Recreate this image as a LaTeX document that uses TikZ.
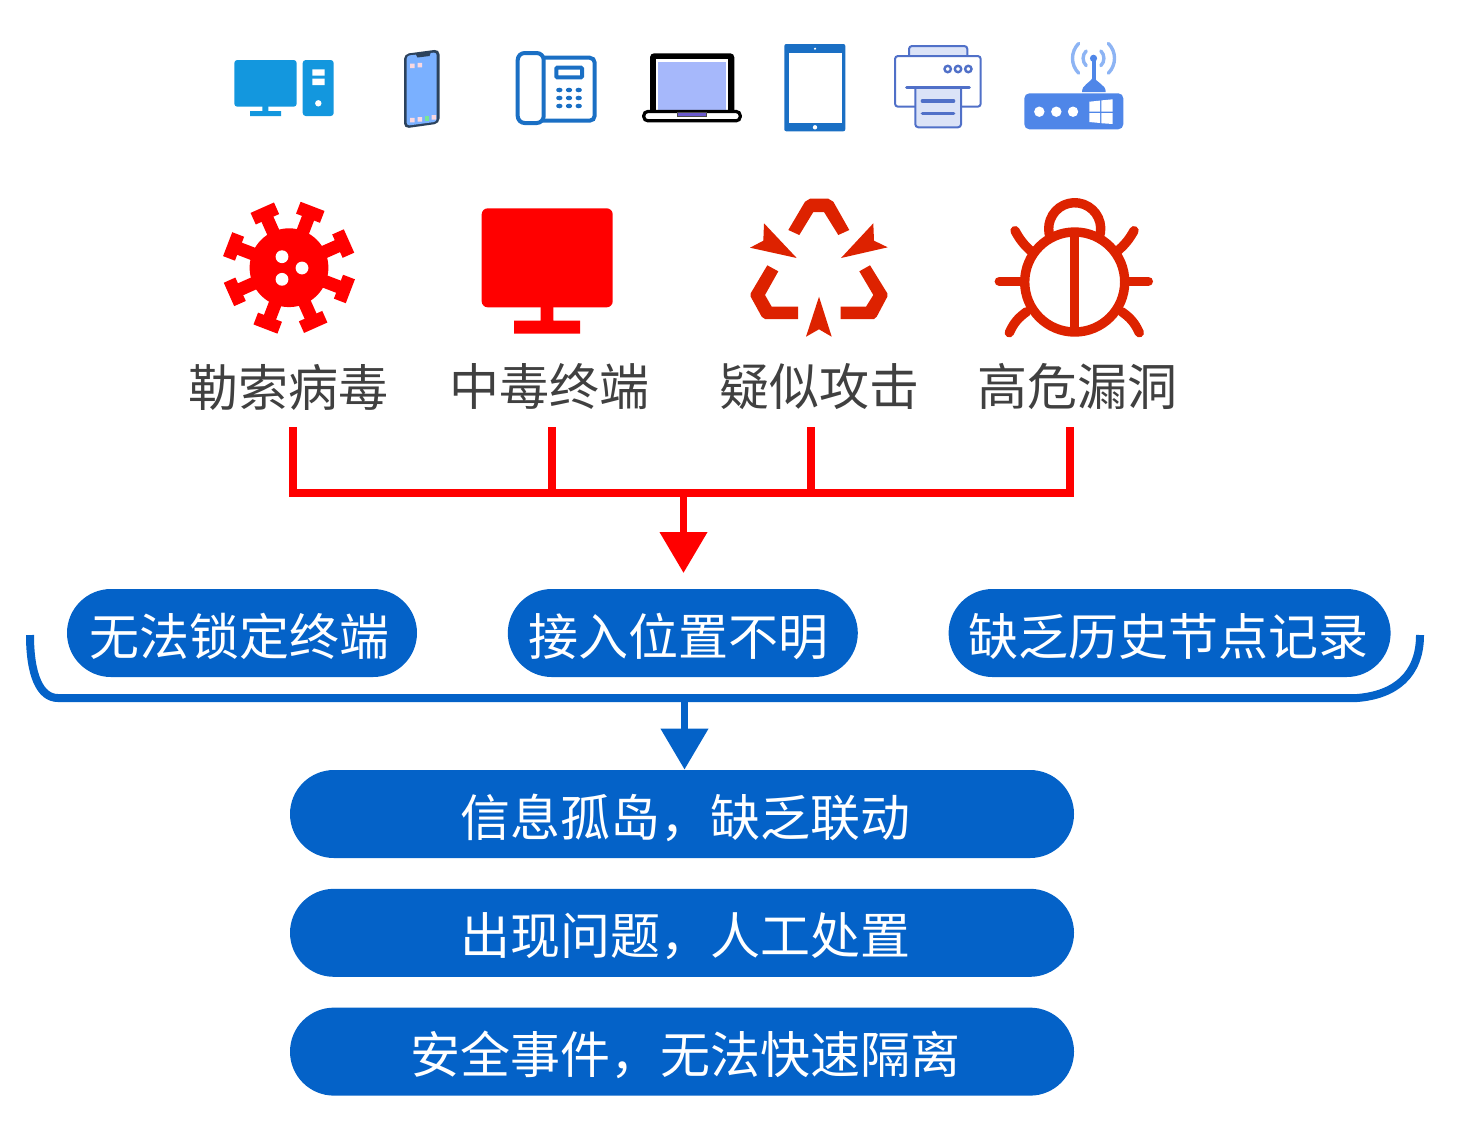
\documentclass[tikz,border=0pt]{standalone}
\usepackage{fontspec}
\usepackage{xcolor}
\usepackage{tikz}
\usetikzlibrary{arrows.meta, positioning}
\newfontfamily\cjk{Noto Sans CJK SC}
\definecolor{myred}{RGB}{255,0,0}
\definecolor{mybrick}{RGB}{221,34,0}
\definecolor{myblue}{RGB}{4,98,200}
\definecolor{mytext}{RGB}{64,64,64}
\definecolor{pcblue}{RGB}{19,151,222}
\definecolor{telblue}{RGB}{26,111,196}
\definecolor{phonedark}{RGB}{44,66,92}
\definecolor{phonesky}{RGB}{122,176,255}
\definecolor{appink}{RGB}{250,216,224}
\definecolor{appgreen}{RGB}{120,230,150}
\definecolor{lapblue}{RGB}{166,184,251}
\definecolor{lapnotch}{RGB}{106,90,205}
\definecolor{prnblue}{RGB}{80,112,200}
\definecolor{prnfill}{RGB}{219,227,247}
\definecolor{rtblue}{RGB}{79,134,232}
\definecolor{rtwave}{RGB}{141,180,244}
\tikzset{
  warnlabel/.style={inner sep=0pt, text=mytext, font=\cjk\fontsize{25}{30}\selectfont},
  pill/.style={rectangle, fill=myblue, text=white, inner sep=0pt,
    minimum width=175pt, minimum height=44pt, rounded corners=22pt,
    text height=25pt, text depth=3pt,
    font=\cjk\fontsize{25}{30}\selectfont},
  widepill/.style={pill, minimum width=392pt},
  redline/.style={line width=3.75pt, color=myred},
  redarrow/.style={-{Triangle[length=20.5pt,width=23pt]}, line width=3.75pt, color=myred},
  bluearrow/.style={-{Triangle[length=20.5pt,width=23pt]}, line width=3.75pt, color=myblue},
  bugline/.style={line width=4.7pt, color=mybrick, line cap=round}
}
\begin{document}
\begin{tikzpicture}[x=0.5pt, y=-0.5pt]
  \useasboundingbox (0,0) rectangle (1459,1126);

  % Desktop
  \fill[pcblue, rounded corners=1.5pt] (234.3,60) rectangle (296.7,106.7);
  \fill[pcblue] (262.3,106) rectangle (268.3,112) (250,111) rectangle (281,116);
  \fill[pcblue, rounded corners=1.5pt] (302.7,60) rectangle (333.7,116);
  \fill[white] (312.3,69.3) rectangle (324.7,75.7) (312.3,78.7) rectangle (324.7,85);
  \fill[white] (318.3,103.3) circle[radius=1.6pt];

  % Phone
  \fill[phonedark, rounded corners=2.5pt] (404,54) -- (439.5,49.3) -- (439.5,123.5) -- (404,128.5) -- cycle;
  \fill[phonesky, rounded corners=1.5pt] (406.7,55.7) -- (436.7,52.3) -- (436.7,121.7) -- (406.7,125.7) -- cycle;
  \fill[phonedark] (415.7,54) -- (431,52) -- (429.5,56) -- (417.5,57.5) -- cycle;
  \fill[appink] (410,63.5) rectangle +(4.5,4.5) (417.5,62.8) rectangle +(4.5,4.5)
    (410,117.8) rectangle +(4.5,4.5) (417.5,117.1) rectangle +(4.5,4.5) (431.5,115.1) rectangle +(4.5,4.5);
  \fill[appgreen] (424.5,116.1) rectangle +(4.5,4.5);

  % Desk telephone
  \draw[telblue, line width=2pt, rounded corners=2.5pt] (543,57.7) -- (594.7,57.7) -- (594.7,120.7) -- (543,120.7);
  \draw[telblue, line width=2pt, rounded corners=3.5pt] (517.7,53) rectangle (543.7,123);
  \draw[telblue, line width=2pt, rounded corners=0.5pt] (556.3,67.7) rectangle (582,77.3);
  \foreach \tx in {559.3,569,578.7}
    \foreach \ty in {90,98,106}
      \fill[telblue] (\tx,\ty) ellipse[x radius=1.6pt, y radius=1.15pt];

  % Laptop
  \fill[black, rounded corners=2pt] (650,53.3) rectangle (734.3,114);
  \fill[white] (656,59.3) rectangle (728.3,114);
  \fill[lapblue] (657.7,61.7) rectangle (725.7,111);
  \draw[black, line width=1.6pt, fill=white, rounded corners=2pt] (643.8,111.5) rectangle (740.2,120.8);
  \draw[black!70, line width=0.4pt, fill=lapnotch] (677.3,112.7) rectangle (706.7,116.7);

  % Tablet
  \fill[telblue, rounded corners=1pt] (784.3,44) rectangle (845.3,131.3);
  \fill[white] (788.7,52.7) rectangle (841.7,122.7);
  \fill[white] (815,48.7) circle[radius=0.6pt] (815,127.3) circle[radius=1.1pt];

  % Printer
  \draw[prnblue, line width=1pt, fill=prnfill, rounded corners=1.5pt] (909,56) -- (909,46) -- (967.3,46) -- (967.3,56);
  \draw[prnblue, line width=1pt, fill=white, rounded corners=1.5pt] (895,56) rectangle (980.7,106.7);
  \foreach \px in {947.7,958,968.3}
    \draw[prnblue, line width=1.2pt] (\px,69) circle[radius=1.6pt];
  \draw[prnblue, line width=1pt, fill=prnfill, rounded corners=1.5pt] (915.3,87.3) -- (915.3,127.3) -- (961,127.3) -- (961,87.3);
  \draw[prnblue, line width=1.6pt, line cap=round] (906.7,87.3) -- (969.3,87.3);
  \draw[prnblue, line width=1.6pt, line cap=round] (922.3,101) -- (953.7,101) (922.3,113.3) -- (953.7,113.3);

  % Router
  \foreach \wr in {5.2,10.5} {
    \draw[rtwave, line width=1.7pt, line cap=round] (1093.5,58.3) ++(135:\wr pt) arc[start angle=135, end angle=225, radius=\wr pt];
    \draw[rtwave, line width=1.7pt, line cap=round] (1093.5,58.3) ++(45:\wr pt) arc[start angle=45, end angle=-45, radius=\wr pt];
  }
  \draw[rtblue, line width=2pt] (1093.5,58.3) -- (1093.5,82);
  \fill[rtblue] (1093.5,58.3) circle[radius=1.8pt];
  \fill[rtblue] (1082,92) .. controls (1082,84) and (1090,84) .. (1093.5,76) .. controls (1097,84) and (1105.7,84) .. (1105.7,92) -- cycle;
  \fill[rtblue, rounded corners=2.5pt] (1024.3,93.3) rectangle (1123.3,129.3);
  \foreach \dx in {1039.3,1056.3,1073}
    \fill[white] (\dx,111.7) circle[radius=2.6pt];
  \fill[white] (1089.3,101.7) -- (1100,100.6) -- (1100,111.7) -- (1089.3,111.7) -- cycle;
  \fill[white] (1101.3,100.4) -- (1112.7,99.3) -- (1112.7,111.7) -- (1101.3,111.7) -- cycle;
  \fill[white] (1089.3,113) -- (1100,113) -- (1100,123) -- (1089.3,122) -- cycle;
  \fill[white] (1101.3,113) -- (1112.7,113) -- (1112.7,124) -- (1101.3,123.2) -- cycle;

  % Virus
  \fill[myred] (289,267.7) circle[radius=19.7pt];
  \foreach \va in {69,24,-21,-66,-111,-156,159,114} {
    \begin{scope}[shift={(289,267.7)}, rotate=\va]
      \fill[myred] (30,-6.5) rectangle (56,6.5);
      \fill[myred] (53,-12.8) rectangle (65.7,12.8);
    \end{scope}
  }
  \fill[white] (282,256.7) circle[radius=3.2pt] (302,268) circle[radius=3.2pt] (282,279.3) circle[radius=3.2pt];

  % Red monitor
  \fill[myred, rounded corners=3pt] (481.7,208.3) rectangle (612.7,307.3);
  \fill[myred] (540.7,305) rectangle (553.3,321) (514,320.7) rectangle (580,333.7);

  % Recycle mark
  \fill[mybrick] (788.3,230) -- (805,201.7) -- (810,198.7) -- (828.3,198.7) -- (833.3,201.7) -- (849.3,230) -- (838.3,235) -- (824,212) -- (813.3,212) -- (799.3,235) -- cycle;
  \fill[mybrick] (796.7,258) -- (750,247.7) -- (763.3,240.7) -- (764,223.3) -- cycle;
  \fill[mybrick] (841,258) -- (887.7,247.3) -- (874,240.7) -- (873.3,223.3) -- cycle;
  \fill[mybrick] (819,296.7) -- (806,336.7) -- (819,329.3) -- (831.7,336.7) -- cycle;
  \fill[mybrick] (767.3,265.3) -- (778.3,271.3) -- (765,295) -- (771.7,306.7) -- (798,306.7) -- (798,319) -- (765,319) -- (761.7,316.7) -- (750.7,296.7) -- (750.7,293.3) -- cycle;
  \fill[mybrick] (870,265.3) -- (859.3,271.3) -- (873.3,295) -- (866,306.7) -- (840.7,306.7) -- (840.7,319) -- (874,319) -- (876.7,316.7) -- (887.3,296.7) -- (887.3,293.3) -- cycle;

  % Bug
  \draw[mybrick, line width=4.7pt] (1074.7,282) circle[radius=25pt];
  \draw[mybrick, line width=4.7pt] (1074.7,232) -- (1074.7,332);
  \draw[mybrick, line width=4.7pt] (1074.7,228.7) ++(-20:13pt) arc[start angle=-20, end angle=200, radius=13pt];
  \draw[bugline] (1015,230.7) to[bend right=10] (1031.7,251.7);
  \draw[bugline] (1134,230.7) to[bend left=10] (1116.7,251.7);
  \draw[bugline] (999.3,281.3) -- (1020,281.3);
  \draw[bugline] (1128.3,281.3) -- (1148.3,281.3);
  \draw[bugline] (1009.3,332.7) to[bend left=15] (1026.7,311.7);
  \draw[bugline] (1139.3,332.7) to[bend right=15] (1121.7,311.7);

  % Threat labels
  \node[warnlabel] (ransom) at (288.5,387) {勒索病毒};
  \node[warnlabel, right=30pt of ransom] (infect) {中毒终端};
  \node[warnlabel, right=34.5pt of infect] (attack) {疑似攻击};
  \node[warnlabel, right=29pt of attack] (vuln) {高危漏洞};

  % Red collector
  \coordinate (dropa) at (293,427);
  \coordinate (dropb) at (552,427);
  \coordinate (dropc) at (811,427);
  \coordinate (dropd) at (1070,427);
  \coordinate (joint) at (683.5,493);
  \draw[redline, line join=miter] (dropa) |- (joint) -| (dropd);
  \draw[redline] (dropb) -- (dropb |- joint);
  \draw[redline] (dropc) -- (dropc |- joint);

  % Problem pills
  \node[pill] (lock) at (242,633) {无法锁定终端\hspace*{3pt}};
  \node[pill, right=45pt of lock] (place) {接入位置不明\hspace*{4.5pt}};
  \node[pill, minimum width=221pt, right=45pt of place] (history) {缺乏历史节点记录\hspace*{1.5pt}};
  \draw[redarrow] (joint) -- (683.5,573);

  % Blue bracket
  \coordinate (bracl) at (30,635);
  \coordinate (bracr) at (1420,635);
  \coordinate (dipa) at (684.5,698);
  \draw[myblue, line width=4pt] (bracl) .. controls (30,675) and (40,698) .. (58,698) -- (1357,698) .. controls (1395,695) and (1420,675) .. (bracr);

  % Result pills
  \node[widepill] (silo) at (682,814) {\hspace*{3.5pt}信息孤岛，缺乏联动};
  \node[widepill, below=15pt of silo] (manual) {\hspace*{3.5pt}出现问题，人工处置};
  \node[widepill, below=15pt of manual] (isolate) {\hspace*{3.5pt}安全事件，无法快速隔离};
  \draw[bluearrow] (dipa) -- (silo.north -| dipa);
\end{tikzpicture}
\end{document}
